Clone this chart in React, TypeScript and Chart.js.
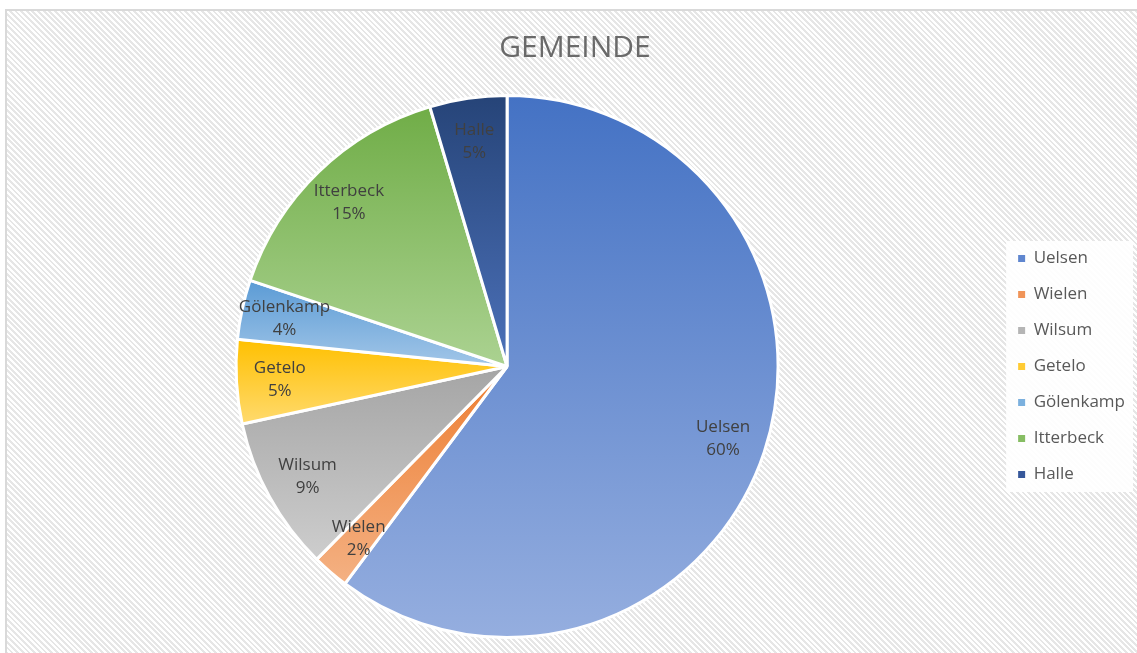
import React, { useEffect, useRef } from "react";
import { Chart, registerables } from "chart.js";

Chart.register(...registerables);

const categories = ["Uelsen", "Wielen", "Wilsum", "Getelo", "Gölenkamp", "Itterbeck", "Halle"];
const shares = [60.2, 2.2, 9.2, 5.0, 3.55, 15.25, 4.6];
const chartTitle = "GEMEINDE";

const topColors = ["#4472C4", "#ED7D31", "#A5A5A5", "#FFC000", "#5B9BD5", "#70AD47", "#264478"];
const bottomColors = ["#95AEDF", "#F4B183", "#CDCDCD", "#FFDA6E", "#A2C6E8", "#ABD291", "#4C71B9"];
const legendColors = ["#5F86CF", "#F09458", "#B5B5B5", "#FFCB33", "#7BB0DE", "#86BD63", "#36579A"];

const FONT = "'Open Sans', 'Noto Sans', sans-serif";

function sliceGradient(ctx: any) {
  const chart = ctx.chart;
  const i = ctx.dataIndex;
  const area = chart.chartArea;
  if (!area || i === undefined) return topColors[i ?? 0];
  const data: number[] = chart.data.datasets[0].data;
  const total = data.reduce((a, b) => a + b, 0);
  let before = 0;
  for (let k = 0; k < i; k++) before += data[k];
  const start = -Math.PI / 2 + (2 * Math.PI * before) / total;
  const end = start + (2 * Math.PI * data[i]) / total;
  const cx = (area.left + area.right) / 2;
  const cy = (area.top + area.bottom) / 2;
  const r = (Math.min(area.width, area.height) - 3) / 2;
  const ys = [cy, cy + r * Math.sin(start), cy + r * Math.sin(end)];
  for (let k = -2; k <= 2; k++) {
    const down = Math.PI / 2 + 2 * Math.PI * k;
    const up = -Math.PI / 2 + 2 * Math.PI * k;
    if (down >= start && down <= end) ys.push(cy + r);
    if (up >= start && up <= end) ys.push(cy - r);
  }
  const y0 = Math.min(...ys);
  const y1 = Math.max(...ys);
  const g = chart.ctx.createLinearGradient(0, y0, 0, y1 > y0 ? y1 : y0 + 1);
  g.addColorStop(0, topColors[i]);
  g.addColorStop(1, bottomColors[i]);
  return g;
}

const legendBackground = {
  id: "legendBackground",
  beforeDraw(chart: any) {
    const lg = chart.legend;
    if (!lg || !lg.legendHitBoxes || !lg.legendHitBoxes.length) return;
    const boxes = lg.legendHitBoxes;
    const first = boxes[0];
    const last = boxes[boxes.length - 1];
    const left = first.left - 12;
    const top = first.top - 9;
    const bottom = last.top + last.height + 9;
    const right = chart.width - 4;
    const c = chart.ctx;
    c.save();
    c.fillStyle = "rgba(255,255,255,0.92)";
    c.fillRect(left, top, right - left, bottom - top);
    c.restore();
  },
};

const sliceLabels = {
  id: "sliceLabels",
  afterDatasetsDraw(chart: any) {
    const meta = chart.getDatasetMeta(0);
    const data: number[] = chart.data.datasets[0].data;
    const total = data.reduce((a, b) => a + b, 0);
    const c = chart.ctx;
    c.save();
    c.font = `17px ${FONT}`;
    c.fillStyle = "#404040";
    c.textAlign = "center";
    c.textBaseline = "middle";
    meta.data.forEach((arc: any, i: number) => {
      const { x, y, startAngle, endAngle, outerRadius } = arc.getProps(
        ["x", "y", "startAngle", "endAngle", "outerRadius"],
        true
      );
      const mid = (startAngle + endAngle) / 2;
      const rr = outerRadius * 0.84;
      const lx = x + Math.cos(mid) * rr;
      const ly = y + Math.sin(mid) * rr;
      const pct = Math.round((data[i] / total) * 100) + "%";
      c.fillText(categories[i], lx, ly - 11.5);
      c.fillText(pct, lx, ly + 11.5);
    });
    c.restore();
  },
};

export default function App() {
  const ref = useRef<HTMLCanvasElement | null>(null);

  useEffect(() => {
    if (!ref.current) return;
    const chart = new Chart(ref.current, {
      type: "pie",
      data: {
        labels: categories,
        datasets: [
          {
            data: shares,
            backgroundColor: sliceGradient as any,
            borderColor: "#ffffff",
            borderWidth: 3,
          },
        ],
      },
      options: {
        responsive: false,
        animation: false,
        layout: { padding: { left: 15, right: 2, top: 0, bottom: 14 } },
        plugins: {
          title: {
            display: true,
            text: chartTitle,
            color: "#6a6a6a",
            font: { family: FONT, size: 30, weight: "normal" as any },
            padding: { top: 30, bottom: 28 },
          },
          legend: {
            position: "right",
            fullSize: false,
            labels: {
              boxWidth: 7,
              boxHeight: 7,
              padding: 19,
              color: "#595959",
              font: { family: FONT, size: 17 },
              generateLabels: () =>
                categories.map((name, i) => ({
                  text: name,
                  fillStyle: legendColors[i],
                  strokeStyle: legendColors[i],
                  lineWidth: 0,
                  hidden: false,
                  index: i,
                  fontColor: "#595959",
                })),
            },
          },
          tooltip: { enabled: false },
        },
      },
      plugins: [legendBackground, sliceLabels],
    });
    return () => chart.destroy();
  }, []);

  return (
    <div
      style={{
        position: "fixed",
        left: 0,
        top: 0,
        width: 1137,
        height: 653,
        overflow: "hidden",
        background: "#ffffff",
      }}
    >
      <div
        style={{
          position: "absolute",
          left: 5,
          top: 9,
          right: -10,
          bottom: -10,
          borderLeft: "2px solid #d9d9d9",
          borderTop: "2px solid #d9d9d9",
          backgroundImage:
            "repeating-linear-gradient(45deg, #ffffff 0px, #ffffff 2px, #e6e6e6 2px, #e6e6e6 4px)",
        }}
      />
      <canvas
        ref={ref}
        width={1137}
        height={653}
        style={{ position: "absolute", left: 0, top: 0 }}
      />
    </div>
  );
}
